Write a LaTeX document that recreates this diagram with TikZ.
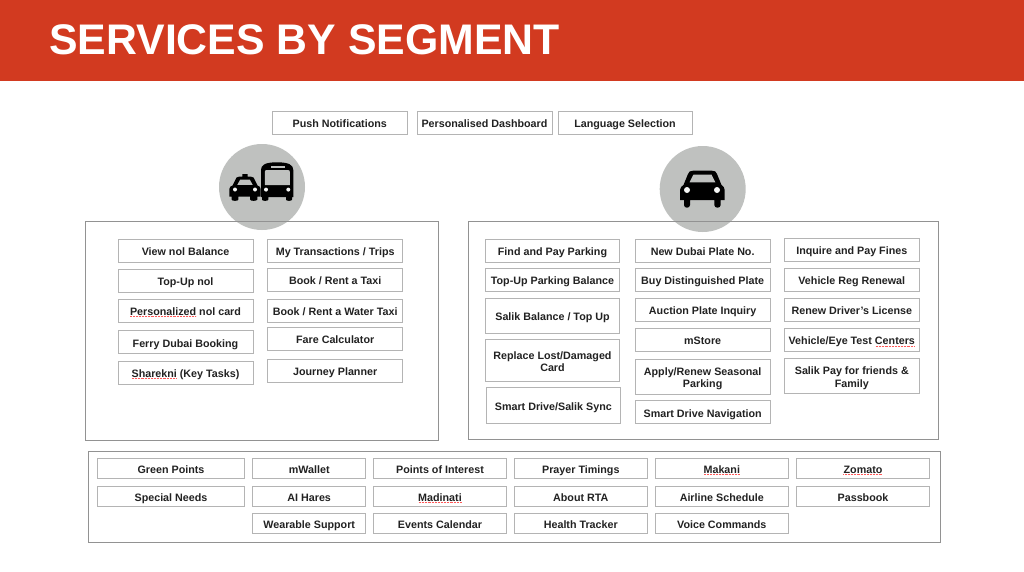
\documentclass[tikz,border=0pt]{standalone}
\usepackage{fontspec}
\setmainfont{Liberation Sans}
\definecolor{banner}{HTML}{D23A20}
\definecolor{boxline}{HTML}{B4B4B4}
\definecolor{panelline}{HTML}{929292}
\definecolor{disc}{HTML}{BFC1BF}
\definecolor{ink}{HTML}{222222}
\newcommand{\tsta}{\vrule width 0pt height 9.3pt depth 0pt\relax}
\newcommand{\tstb}{\vrule width 0pt height 0pt depth 2pt\relax}
\newcommand{\svc}[6]{%
  \pgfmathsetmacro{\bw}{(#4-#2)*0.75}%
  \pgfmathsetmacro{\bh}{(#5-#3)*0.75}%
  \node[svcbox,minimum width=\bw pt,minimum height=\bh pt] (#1) at ({(#2+#4)/2},{(#3+#5)/2}) {\tsta #6\tstb};}
\newcommand{\pnl}[5]{%
  \pgfmathsetmacro{\bw}{(#4-#2)*0.75}%
  \pgfmathsetmacro{\bh}{(#5-#3)*0.75}%
  \node[panelbox,minimum width=\bw pt,minimum height=\bh pt] (#1) at ({(#2+#4)/2},{(#3+#5)/2}) {};}
\tikzset{
  svcbox/.style={draw=boxline,line width=0.75pt,inner sep=0pt,outer sep=0pt,align=center,text=ink,
    font=\fontsize{8.05}{9.5}\selectfont\bfseries},
  panelbox/.style={draw=panelline,line width=0.75pt,inner sep=0pt,outer sep=0pt},
  discnode/.style={circle,fill=disc,minimum size=64.5pt,inner sep=0pt},
  squiggle/.style={draw=red!65!white,line width=0.45pt,dash pattern=on 0.6pt off 0.5pt},
  hole/.style={fill=disc,draw=none},
  lamp/.style={fill=white!85!disc,draw=none}
}
\begin{document}
\begin{tikzpicture}[x=0.75pt,y=-0.75pt]
\useasboundingbox (0,0) rectangle (1024,571);
\fill[white] (0,0) rectangle (1024,571);
\fill[banner] (0,0) rectangle (1024,80.5);
\node[anchor=base west,inner sep=0pt,text=white,font=\fontsize{32.1}{36}\selectfont\bfseries] (title) at (49,54.5) {SERVICES BY SEGMENT};

\node[discnode] (discL) at (262,187) {};
\node[discnode] (discR) at (702.7,189) {};

% taxi
\fill[black] (229.3,189) .. controls (229.3,187) and (231,186) .. (232.5,185.5) -- (236.5,177.5) .. controls (237,176.7) and (238,176.7) .. (239,176.7) -- (242.3,176.7) -- (242.3,174) -- (247.7,174) -- (247.7,176.7) -- (251,176.7) .. controls (252,176.7) and (253,176.7) .. (253.5,177.5) -- (257.5,185.5) .. controls (259,186) and (260.7,187) .. (260.7,189) -- (260.7,196.7) -- (257.3,196.7) -- (257.3,199.5) .. controls (257.3,201.3) and (250,201.3) .. (250,199.5) -- (250,196.7) -- (238.3,196.7) -- (238.3,199.5) .. controls (238.3,201.3) and (231.7,201.3) .. (231.7,199.5) -- (231.7,196.7) -- (229.3,196.7) -- cycle;
\fill[hole] (240.3,179.5) -- (249.7,179.5) -- (252.7,184.8) -- (237.3,184.8) -- cycle;
\fill[lamp] (235,189.5) circle [radius=2];
\fill[lamp] (255,189.5) circle [radius=2];

% bus
\fill[black] (261,170) .. controls (261,165) and (265,162.3) .. (277,162.3) .. controls (289,162.3) and (293.3,165) .. (293.3,170) -- (293.3,197) -- (292,197) -- (292,199.5) .. controls (292,201.3) and (286,201.3) .. (286,199.5) -- (286,197) -- (268.3,197) -- (268.3,199.5) .. controls (268.3,201.3) and (262,201.3) .. (262,199.5) -- (262,197) -- (261,197) -- cycle;
\fill[hole] (264.8,172) .. controls (264.8,170.5) and (265.5,170) .. (267,170) -- (287.7,170) .. controls (289.2,170) and (289.9,170.5) .. (289.9,172) -- (289.9,185) -- (264.8,185) -- cycle;
\fill[hole] (270.7,165.7) rectangle (285,167.5);
\fill[lamp] (266,189.6) circle [radius=2];
\fill[lamp] (288.3,189.6) circle [radius=2];

% car
\fill[black] (680,190) .. controls (680,187.5) and (682,186) .. (683.5,185) -- (688,174) .. controls (689,171.5) and (690,170.7) .. (693,170.7) -- (712,170.7) .. controls (715,170.7) and (716,171.5) .. (717,174) -- (721.5,185) .. controls (723,186) and (724.7,187.5) .. (724.7,190) -- (724.7,200) -- (720.7,200) -- (720.7,205) .. controls (720.7,208.6) and (714.3,208.6) .. (714.3,205) -- (714.3,200) -- (690,200) -- (690,205) .. controls (690,208.6) and (684,208.6) .. (684,205) -- (684,200) -- (680,200) -- cycle;
\fill[hole] (693.5,174.5) -- (711.5,174.5) -- (715.3,182.3) -- (689.5,182.3) -- cycle;
\fill[lamp] (687,190) circle [radius=3];
\fill[lamp] (717,190) circle [radius=3];

\pnl{panelL}{85}{221.5}{438.5}{440}
\pnl{panelR}{468}{221.5}{938}{439}
\pnl{panelB}{88.3}{451}{940}{542}

\svc{push}{272.5}{111}{407}{134}{Push Notifications}
\svc{dash}{417}{111}{552}{134}{Personalised Dashboard}
\svc{lang}{558}{111}{692}{134}{Language Selection}

\svc{a1}{118}{239.3}{253}{262.7}{View nol Balance}
\svc{a2}{118}{269.3}{253}{292.3}{Top-Up nol}
\svc{a3}{118}{299.3}{253}{322.7}{Personalized nol card}
\svc{a4}{118}{330.7}{253}{353.7}{Ferry Dubai Booking}
\svc{a5}{118}{361.3}{253}{384.7}{Sharekni (Key Tasks)}

\svc{b1}{267.7}{239.3}{402.7}{262.7}{My Transactions / Trips}
\svc{b2}{267.7}{268.3}{402.7}{291.7}{Book / Rent a Taxi}
\svc{b3}{267.7}{299.3}{402.7}{322.7}{Book / Rent a Water Taxi}
\svc{b4}{267.7}{327.3}{402.7}{350.7}{Fare Calculator}
\svc{b5}{267.7}{359.3}{402.7}{382.7}{Journey Planner}

\svc{c1}{485.3}{239.3}{619.7}{262.7}{Find and Pay Parking}
\svc{c2}{485.3}{268.3}{619.7}{291.7}{Top-Up Parking Balance}
\svc{c3}{485.3}{298.3}{619.7}{333}{Salik Balance / Top Up}
\svc{c4}{485.3}{339.3}{619.7}{381.7}{Replace Lost/Damaged\\Card}
\svc{c5}{486}{387.3}{620.7}{423.7}{Smart Drive/Salik Sync}

\svc{d1}{635.3}{239.3}{770}{262.7}{New Dubai Plate No.}
\svc{d2}{635.3}{268.3}{770}{291.7}{Buy Distinguished Plate}
\svc{d3}{635.3}{298.3}{770}{321.7}{Auction Plate Inquiry}
\svc{d4}{635.3}{328}{770}{351}{mStore}
\svc{d5}{635.3}{359.3}{770}{394}{Apply/Renew Seasonal\\Parking}
\svc{d6}{635.3}{400.7}{770}{423.7}{Smart Drive Navigation}

\svc{e1}{784.3}{238.3}{919.3}{261.7}{Inquire and Pay Fines}
\svc{e2}{784.3}{268.3}{919.3}{291.7}{Vehicle Reg Renewal}
\svc{e3}{784.3}{298}{919.3}{321}{Renew Driver's License}
\svc{e4}{784.3}{328}{919.3}{351}{Vehicle/Eye Test Centers}
\svc{e5}{784.3}{358.3}{919.3}{393.3}{Salik Pay for friends \&\\Family}

\svc{f1}{97.3}{458.3}{244.7}{478}{Green Points}
\svc{f2}{252.7}{458.3}{365.7}{478}{mWallet}
\svc{f3}{373.3}{458.3}{506.7}{478}{Points of Interest}
\svc{f4}{514.3}{458.3}{647.3}{478}{Prayer Timings}
\svc{f5}{655.3}{458.3}{788.3}{478}{Makani}
\svc{f6}{796.3}{458.3}{929.7}{478}{Zomato}

\svc{g1}{97.3}{486.3}{244.7}{506.3}{Special Needs}
\svc{g2}{252.7}{486.3}{365.7}{506.3}{AI Hares}
\svc{g3}{373.3}{486.3}{506.7}{506.3}{Madinati}
\svc{g4}{514.3}{486.3}{647.3}{506.3}{About RTA}
\svc{g5}{655.3}{486.3}{788.3}{506.3}{Airline Schedule}
\svc{g6}{796.3}{486.3}{929.7}{506.3}{Passbook}

\svc{h2}{252.7}{513.3}{365.7}{533}{Wearable Support}
\svc{h3}{373.3}{513.3}{506.7}{533}{Events Calendar}
\svc{h4}{514.3}{513.3}{647.3}{533}{Health Tracker}
\svc{h5}{655.3}{513.3}{788.3}{533}{Voice Commands}

\draw[squiggle] (130,316.7) -- (196,316.7);
\draw[squiggle] (131.7,378.3) -- (176,378.3);
\draw[squiggle] (418.7,502.7) -- (461.7,502.7);
\draw[squiggle] (704,474.3) -- (740,474.3);
\draw[squiggle] (843.3,474.3) -- (881.7,474.3);
\draw[squiggle] (875.7,346.7) -- (914.3,346.7);
\end{tikzpicture}
\end{document}
